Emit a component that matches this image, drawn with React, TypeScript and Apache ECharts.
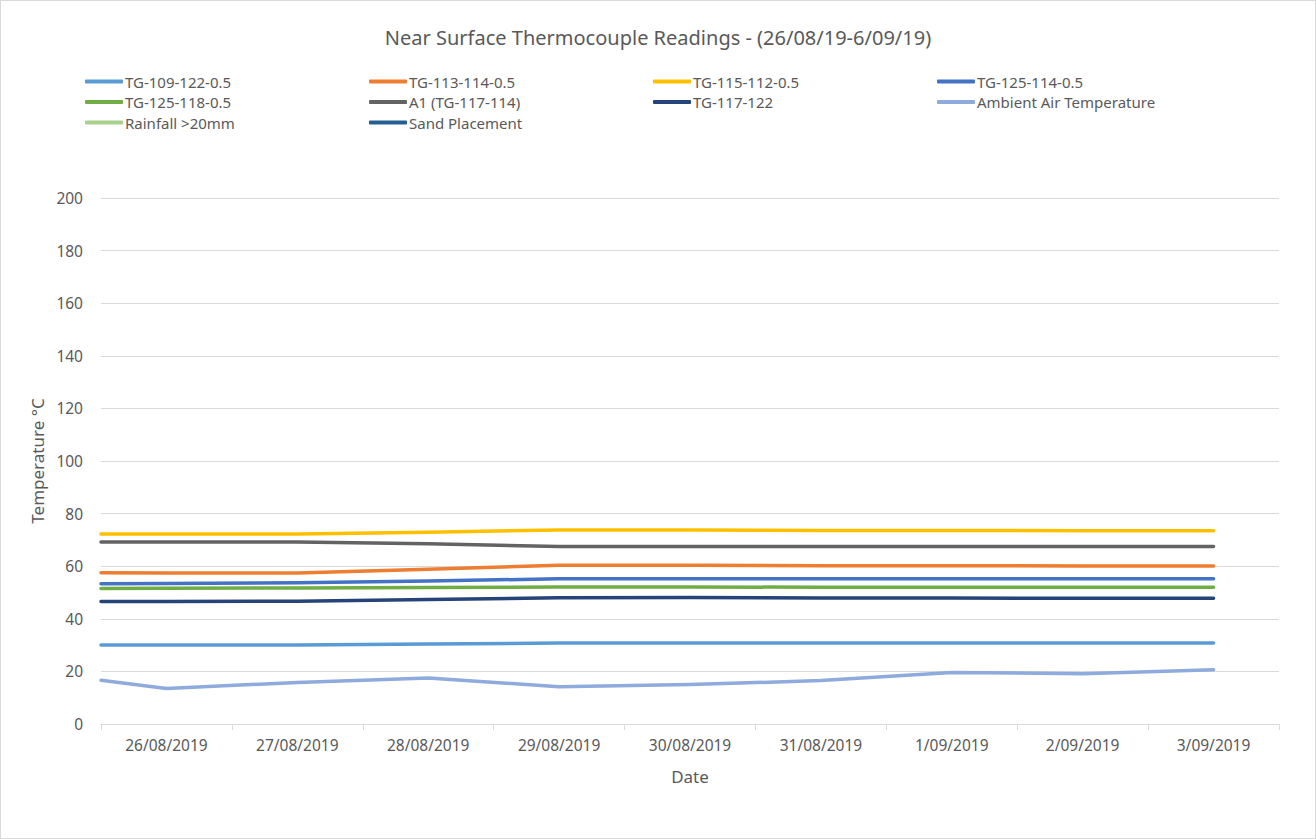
import React, { useEffect, useRef } from "react";
import * as echarts from "echarts";

const dateLabels = ["26/08/2019","27/08/2019","28/08/2019","29/08/2019","30/08/2019","31/08/2019","1/09/2019","2/09/2019","3/09/2019"];
// reading positions in days relative to the first date category (first reading half a day earlier)
const readingDays = [-0.5, 0, 1, 2, 3, 4, 5, 6, 7, 8];

const tg109_122 = [30.0, 30.0, 30.0, 30.4, 30.8, 30.8, 30.8, 30.8, 30.8, 30.8];
const tg113_114 = [57.5, 57.4, 57.4, 58.8, 60.4, 60.4, 60.2, 60.2, 60.1, 60.1];
const tg115_112 = [72.2, 72.2, 72.2, 72.9, 73.8, 73.8, 73.6, 73.6, 73.5, 73.5];
const tg125_114 = [53.3, 53.4, 53.7, 54.4, 55.2, 55.2, 55.2, 55.2, 55.2, 55.2];
const tg125_118 = [51.5, 51.6, 51.7, 51.9, 52.1, 52.1, 52.0, 52.0, 52.0, 52.0];
const a1_117_114 = [69.2, 69.2, 69.2, 68.5, 67.5, 67.5, 67.5, 67.5, 67.5, 67.5];
const tg117_122 = [46.6, 46.6, 46.7, 47.3, 48.0, 48.1, 47.9, 47.9, 47.8, 47.8];
const ambientAir = [16.6, 13.5, 15.8, 17.5, 14.2, 15.0, 16.5, 19.6, 19.1, 20.6];
const rainfall: number[] = [];
const sandPlacement: number[] = [];

const seriesNames = [
  "TG-109-122-0.5", "TG-113-114-0.5", "TG-115-112-0.5", "TG-125-114-0.5",
  "TG-125-118-0.5", "A1 (TG-117-114)", "TG-117-122", "Ambient Air Temperature",
  "Rainfall >20mm", "Sand Placement",
];
const seriesValues = [tg109_122, tg113_114, tg115_112, tg125_114, tg125_118, a1_117_114, tg117_122, ambientAir, rainfall, sandPlacement];
const seriesColors = ["#5B9BD5", "#ED7D31", "#FFC000", "#4472C4", "#70AD47", "#636363", "#264478", "#8FAADC", "#A9D18E", "#255E91"];

const yTicks = { min: 0, max: 200, interval: 20 };

const FONT = "'Noto Sans', sans-serif";
const TXT = "#595959";

export default function App() {
  const ref = useRef<HTMLDivElement>(null);
  useEffect(() => {
    if (!ref.current) return;
    const chart = echarts.init(ref.current, null, { renderer: "svg" });
    const legends = seriesNames.map((n, i) => ({
      data: [{ name: n, icon: "roundRect" }],
      left: 84 + (i % 4) * 284,
      top: 73 + Math.floor(i / 4) * 20.5,
      itemWidth: 38,
      itemHeight: 4,
      itemGap: 0,
      padding: 0,
      textStyle: { color: TXT, fontFamily: FONT, fontSize: 15, padding: [0, 0, 0, -3] },
    }));
    chart.setOption({
      animation: false,
      backgroundColor: "#fff",
      title: {
        text: "Near Surface Thermocouple Readings - (26/08/19-6/09/19)",
        left: "center",
        top: 21,
        textStyle: { color: TXT, fontFamily: FONT, fontSize: 20, fontWeight: "normal" },
      },
      legend: legends,
      grid: { left: 100, right: 36, top: 197, bottom: 114, containLabel: false },
      xAxis: [
        {
          type: "category",
          data: dateLabels,
          boundaryGap: true,
          name: "Date",
          nameLocation: "middle",
          nameGap: 44,
          nameTextStyle: { color: TXT, fontFamily: FONT, fontSize: 17 },
          axisLine: { lineStyle: { color: "#D9D9D9", width: 1 } },
          axisTick: { show: true, length: 6, alignWithLabel: false, lineStyle: { color: "#D9D9D9" } },
          axisLabel: { color: TXT, fontFamily: FONT, fontSize: 15.5, margin: 13 },
          splitLine: { show: false },
        },
        {
          type: "value",
          min: -0.5,
          max: 8.5,
          show: false,
        },
      ],
      yAxis: {
        type: "value",
        ...yTicks,
        name: "Temperature °C",
        nameLocation: "middle",
        nameGap: 52,
        nameTextStyle: { color: TXT, fontFamily: FONT, fontSize: 17 },
        axisLine: { show: false },
        axisTick: { show: false },
        axisLabel: { color: TXT, fontFamily: FONT, fontSize: 15.5, margin: 18 },
        splitLine: { lineStyle: { color: "#D9D9D9", width: 1 } },
      },
      series: seriesNames.map((name, i) => ({
        name,
        type: "line",
        xAxisIndex: 1,
        data: seriesValues[i].map((v, j) => [readingDays[j], v]),
        showSymbol: false,
        symbol: "none",
        color: seriesColors[i],
        lineStyle: { color: seriesColors[i], width: 3.5, cap: "round", join: "round" },
        z: 10 - i,
      })),
    });
    return () => chart.dispose();
  }, []);
  return (
    <div
      style={{
        position: "fixed",
        left: 0,
        top: 0,
        width: 1314,
        height: 837,
        border: "1px solid #D9D9D9",
        background: "#fff",
      }}
    >
      <div ref={ref} style={{ width: 1314, height: 837 }} />
    </div>
  );
}
